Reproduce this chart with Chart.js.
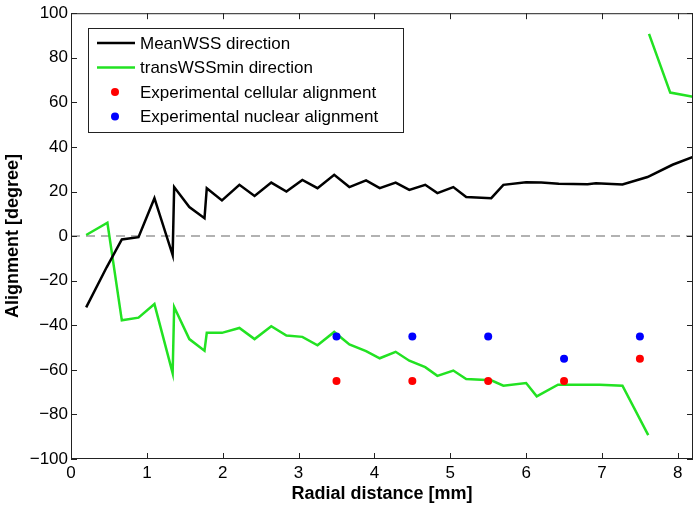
<!DOCTYPE html>
<html>
<head>
<meta charset="utf-8">
<script src="https://cdn.jsdelivr.net/npm/chart.js@4/dist/chart.umd.min.js"></script>
<style>
  html, body { margin: 0; padding: 0; background: #fff; }
  #wrap { width: 697px; height: 510px; }
</style>
</head>
<body>
<div id="wrap"><canvas id="alignChart" width="697" height="510"></canvas></div>
<script>
/* --- Data ---------------------------------------------------------------- */
const meanRadial = [0.2, 0.47, 0.67, 0.89, 1.1, 1.34, 1.36, 1.56, 1.76, 1.79, 1.99, 2.22, 2.42,
  2.64, 2.84, 3.05, 3.25, 3.47, 3.67, 3.89, 4.07, 4.28, 4.46, 4.67, 4.83, 5.04, 5.21, 5.54,
  5.70, 6.0, 6.2, 6.43, 6.81, 6.92, 7.27, 7.6, 7.93, 8.2];
const meanWSS = [-32, -14, -1.5, -0.5, 17, -8.5, 22, 13, 8, 21.5, 16, 23, 18,
  24, 20, 25.2, 21.5, 27.5, 22, 25, 21.5, 24, 20.7, 23, 19.3, 22, 17.5, 17,
  23, 24.2, 24, 23.5, 23.3, 23.7, 23.2, 26.5, 32, 35.5];

// null marks the wrap from -90 to +90 degrees
const transRadial = [0.2, 0.48, 0.67, 0.89, 1.1, 1.34, 1.36, 1.56, 1.76, 1.79, 1.99, 2.22, 2.42,
  2.64, 2.84, 3.05, 3.25, 3.47, 3.67, 3.89, 4.07, 4.28, 4.46, 4.67, 4.83, 5.04, 5.21, 5.54,
  5.70, 6.0, 6.14, 6.42, 6.97, 7.27, 7.61, 7.615, 7.62, 7.9, 8.2];
const transWSSmin = [0.5, 6, -37.8, -36.6, -30.5, -61.5, -31.8, -46.2, -51.4, -43.4, -43.4, -41.2, -46.2,
  -40.4, -44.6, -45.2, -49, -43, -48.6, -51.6, -54.8, -51.9, -55.9, -58.8, -62.7, -60.3, -64.1, -64.7,
  -67.1, -65.9, -71.9, -66.7, -66.7, -67.1, -89.3, null, 90.7, 64.4, 62.5];

const expRadial = [3.5, 4.5, 5.5, 6.5, 7.5];
const cellular  = [-65, -65, -65, -65, -55];
const nuclear   = [-45, -45, -45, -55, -45];

const zeroLineX = [0, 8.2];

const xTicks = [0, 1, 2, 3, 4, 5, 6, 7, 8];

/* --- Helpers ------------------------------------------------------------- */
const pts = (xs, ys) => xs.map((x, i) => ({ x: x, y: ys[i] }));
const FONT = '"Liberation Sans", Arial, Helvetica, sans-serif';

// MATLAB-like frame with inward ticks on all four sides
const framePlugin = {
  id: 'frame',
  afterDraw(c) {
    const { ctx, chartArea: a, scales: { x, y } } = c;
    ctx.save();
    ctx.strokeStyle = '#222';
    ctx.lineWidth = 1;
    ctx.strokeRect(a.left + 0.5, a.top + 0.5, a.right - a.left - 1, a.bottom - a.top - 1);
    ctx.beginPath();
    x.ticks.forEach(t => {
      const px = Math.round(x.getPixelForValue(t.value)) + 0.5;
      ctx.moveTo(px, a.bottom); ctx.lineTo(px, a.bottom - 6);
      ctx.moveTo(px, a.top);    ctx.lineTo(px, a.top + 6);
    });
    y.ticks.forEach(t => {
      const py = Math.round(y.getPixelForValue(t.value)) + 0.5;
      ctx.moveTo(a.left, py);  ctx.lineTo(a.left + 6, py);
      ctx.moveTo(a.right, py); ctx.lineTo(a.right - 6, py);
    });
    ctx.stroke();

    // legend box, upper left
    const items = c.data.datasets.filter(d => d.label);
    const bx = 88, by = 28, bw = 315, bh = 104, rowH = 24.5;
    ctx.fillStyle = '#fff';
    ctx.fillRect(bx, by, bw, bh);
    ctx.strokeRect(bx + 0.5, by + 0.5, bw, bh);
    ctx.font = '17px ' + FONT;
    ctx.textBaseline = 'middle';
    items.forEach((d, i) => {
      const ry = by + 15 + i * rowH;
      if (d.showLine) {
        ctx.strokeStyle = d.borderColor;
        ctx.lineWidth = 2.5;
        ctx.beginPath(); ctx.moveTo(97, ry); ctx.lineTo(135, ry); ctx.stroke();
      } else {
        ctx.fillStyle = d.backgroundColor;
        ctx.beginPath(); ctx.arc(115, ry, 4, 0, Math.PI * 2); ctx.fill();
      }
      ctx.fillStyle = '#000';
      ctx.fillText(d.label, 140, ry + 1);
    });
    ctx.restore();
  }
};

/* --- Chart --------------------------------------------------------------- */
new Chart(document.getElementById('alignChart').getContext('2d'), {
  type: 'scatter',
  data: { datasets: [
    { label: 'MeanWSS direction', data: pts(meanRadial, meanWSS), showLine: true,
      borderColor: '#000', borderWidth: 2.5, pointRadius: 0, order: 1 },
    { label: 'transWSSmin direction', data: pts(transRadial, transWSSmin), showLine: true,
      borderColor: '#22e222', borderWidth: 2.5, pointRadius: 0, spanGaps: false, order: 2 },
    { label: 'Experimental cellular alignment', data: pts(expRadial, cellular), showLine: false,
      backgroundColor: '#ff0000', borderWidth: 0, pointRadius: 4, order: 0 },
    { label: 'Experimental nuclear alignment', data: pts(expRadial, nuclear), showLine: false,
      backgroundColor: '#0000ff', borderWidth: 0, pointRadius: 4, order: 0 },
    { data: pts(zeroLineX, [0, 0]), showLine: true, borderColor: '#999', borderWidth: 1.5,
      borderDash: [9, 6], pointRadius: 0, order: 3 }
  ]},
  options: {
    responsive: false,
    animation: false,
    layout: { padding: { top: 10, right: 4, left: 0, bottom: 0 } },
    plugins: { legend: { display: false }, tooltip: { enabled: false } },
    scales: {
      x: {
        type: 'linear', min: 0, max: 8.2,
        afterBuildTicks: s => { s.ticks = xTicks.map(v => ({ value: v })); },
        afterFit: s => { s.height = 51; },
        grid: { display: false, drawTicks: false }, border: { display: false },
        ticks: { color: '#000', font: { family: FONT, size: 17 }, padding: 4, maxRotation: 0 },
        title: { display: true, text: 'Radial distance [mm]', color: '#000',
                 font: { family: FONT, size: 18, weight: 'bold' }, padding: { top: 0, bottom: 5 } }
      },
      y: {
        min: -100, max: 100,
        afterFit: s => { s.width = 71; },
        grid: { display: false, drawTicks: false }, border: { display: false },
        ticks: { stepSize: 20, color: '#000', font: { family: FONT, size: 17 }, padding: 3,
                 callback: v => String(v).replace('-', '\u2212') },
        title: { display: true, text: 'Alignment [degree]', color: '#000',
                 font: { family: FONT, size: 18, weight: 'bold' }, padding: { top: 2, bottom: 0 } }
      }
    }
  },
  plugins: [framePlugin]
});
</script>
</body>
</html>
